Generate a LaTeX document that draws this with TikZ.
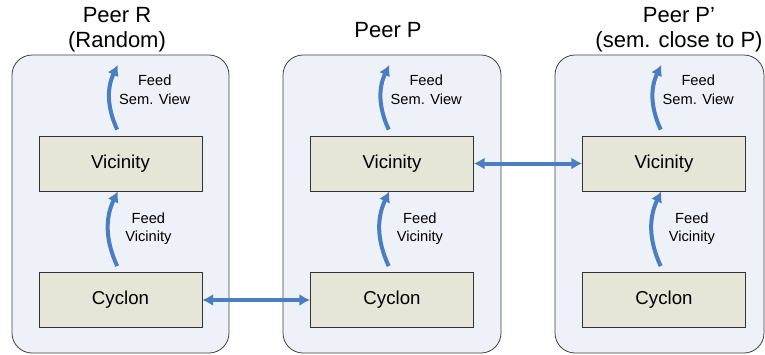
\documentclass[tikz,border=0pt]{standalone}
\usepackage{fontspec}
\setmainfont{Liberation Sans}
\usetikzlibrary{arrows.meta, positioning}
\definecolor{peerfill}{RGB}{238,241,248}
\definecolor{boxfill}{RGB}{230,230,216}
\definecolor{arrblue}{RGB}{74,126,193}
\tikzstyle{peer}=[draw=black!75, fill=peerfill, rounded corners=15pt, line width=0.6pt, minimum height=223.5pt]
\tikzstyle{box}=[draw=black!80, fill=boxfill, minimum width=122.25pt, minimum height=41.25pt, line width=0.6pt, font=\fontsize{14}{16}\selectfont]
\tikzstyle{title}=[align=center, font=\fontsize{16.5}{19}\selectfont]
\tikzstyle{lbl}=[align=center, text=black, font=\fontsize{11}{14}\selectfont]
\tikzstyle{feed}=[arrblue, line width=3pt, -{Latex[length=8pt,width=9pt]}]
\tikzstyle{link}=[arrblue, line width=3pt, {Latex[length=8pt,width=9pt]}-{Latex[length=8pt,width=9pt]}]

\begin{document}
\begin{tikzpicture}[x=0.75pt, y=-0.75pt]
    \useasboundingbox (0,0) rectangle (765,354);

    % peers
    \node [peer, minimum width=162.75pt](pR) at (120.5,204) {};
    \node [peer, minimum width=163.5pt](pP) at (392,204) {};
    \node [peer, minimum width=156.75pt](pQ) at (659.5,204) {};

    \node [title](tR) at (117,30) {Peer R\\(Random)};
    \node [title](tP) at (388,30) {Peer P};
    \node [title](tQ) at (679,30) {Peer P’\\(sem. close to P)};

    % protocol layers
    \node [box](vR) at (120.5,163.5) {Vicinity};
    \node [box](cR) at (120.5,300) {Cyclon};
    \node [box](vP) at (392,163.5) {Vicinity};
    \node [box](cP) at (392,300) {Cyclon};
    \node [box](vQ) at (664,163.5) {Vicinity};
    \node [box](cQ) at (664,300) {Cyclon};

    \coordinate (oR) at ([xshift=-2pt,yshift=53pt]vR.north);
    \coordinate (oP) at ([xshift=-2pt,yshift=53pt]vP.north);
    \coordinate (oQ) at ([xshift=-2pt,yshift=53pt]vQ.north);

    \draw[feed] ([xshift=-2.5pt,yshift=4.5pt]cR.north) to[bend left=25] node[lbl, right=8pt]{Feed\\Vicinity} ([xshift=-2pt]vR.south);
    \draw[feed] ([xshift=-2.5pt,yshift=4.5pt]cP.north) to[bend left=25] node[lbl, right=8pt]{Feed\\Vicinity} ([xshift=-2pt]vP.south);
    \draw[feed] ([xshift=-2.5pt,yshift=4.5pt]cQ.north) to[bend left=25] node[lbl, right=8pt]{Feed\\Vicinity} ([xshift=-2pt]vQ.south);

    \draw[feed] ([xshift=-2.5pt,yshift=4.5pt]vR.north) to[bend left=25] node[lbl, pos=0.62, right=2pt]{Feed\\Sem. View} (oR);
    \draw[feed] ([xshift=-2.5pt,yshift=4.5pt]vP.north) to[bend left=25] node[lbl, pos=0.62, right=2pt]{Feed\\Sem. View} (oP);
    \draw[feed] ([xshift=-2.5pt,yshift=4.5pt]vQ.north) to[bend left=25] node[lbl, pos=0.62, right=2pt]{Feed\\Sem. View} (oQ);

    % gossip links
    \draw[link] (cR.east) -- (cP.west);
    \draw[link] (vP.east) -- (vQ.west);
\end{tikzpicture}
\end{document}
